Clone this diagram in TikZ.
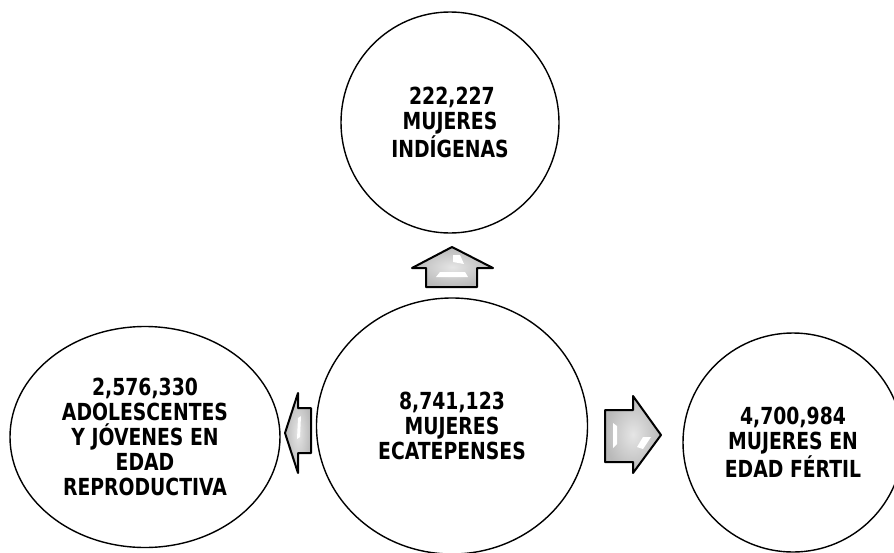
\documentclass[tikz,border=0pt]{standalone}
\usepackage{fontspec}
\setmainfont{DejaVu Sans}[FakeStretch=0.8]
\usetikzlibrary{shapes.geometric}
\begin{document}
\begin{tikzpicture}[x=1pt,y=-1pt,
  bub/.style={draw=black,line width=1.4pt,ellipse,inner sep=0pt,align=center,
    font=\fontsize{23.5}{25}\selectfont\bfseries},
  blk/.style={draw=black,line width=2pt,line join=round,inner color=gray!20,outer color=gray!55},
  hl/.style={fill=white,draw=none}]
\useasboundingbox (0,0) rectangle (894,552);
\clip (0,0) rectangle (894,552);
% bubbles
\node[bub,minimum width=218pt,minimum height=221pt] (top) at (450,122.5) {\,222,227\\MUJERES\\INDÍGENAS};
\node[bub,minimum width=271pt,minimum height=256pt] (mid) at (452,426) {8,741,123\\MUJERES\\ECATEPENSES};
\node[bub,minimum width=270pt,minimum height=221pt] (lft) at (145,437) {2,576,330\\ADOLESCENTES\\Y JÓVENES EN\\EDAD\\REPRODUCTIVA};
\node[bub,minimum width=220pt,minimum height=219pt] (rgt) at (793,442.5) {4,700,984\\MUJERES EN\\EDAD FÉRTIL};
% up arrow
\path[blk] (452,247) -- (493,268) -- (477,268) -- (477,287) -- (426,287) -- (426,268) -- (412,268) -- cycle;
\fill[hl] (453,255) -- (460,255) -- (464,264) -- (453,262) -- cycle;
\fill[hl] (440,272) -- (465,272) -- (468,277) -- (436,277) -- cycle;
% right arrow
\path[blk] (605,410) -- (633,410) -- (633,396) -- (661,435) -- (633,473) -- (633,462) -- (605,462) -- cycle;
\fill[hl] (613,423) -- (617,426) -- (617,444) -- (613,448) -- cycle;
\fill[hl] (643,437) -- (651,437) -- (643,449) -- (637,447) -- cycle;
% left arrow
\path[blk] (285,433) -- (298,393) -- (298,408) -- (311,408) -- (311,453) -- (298,453) -- (298,473) -- cycle;
\fill[hl] (298,418) -- (301,416) -- (300,437) -- (297,439) -- cycle;
\end{tikzpicture}
\end{document}
